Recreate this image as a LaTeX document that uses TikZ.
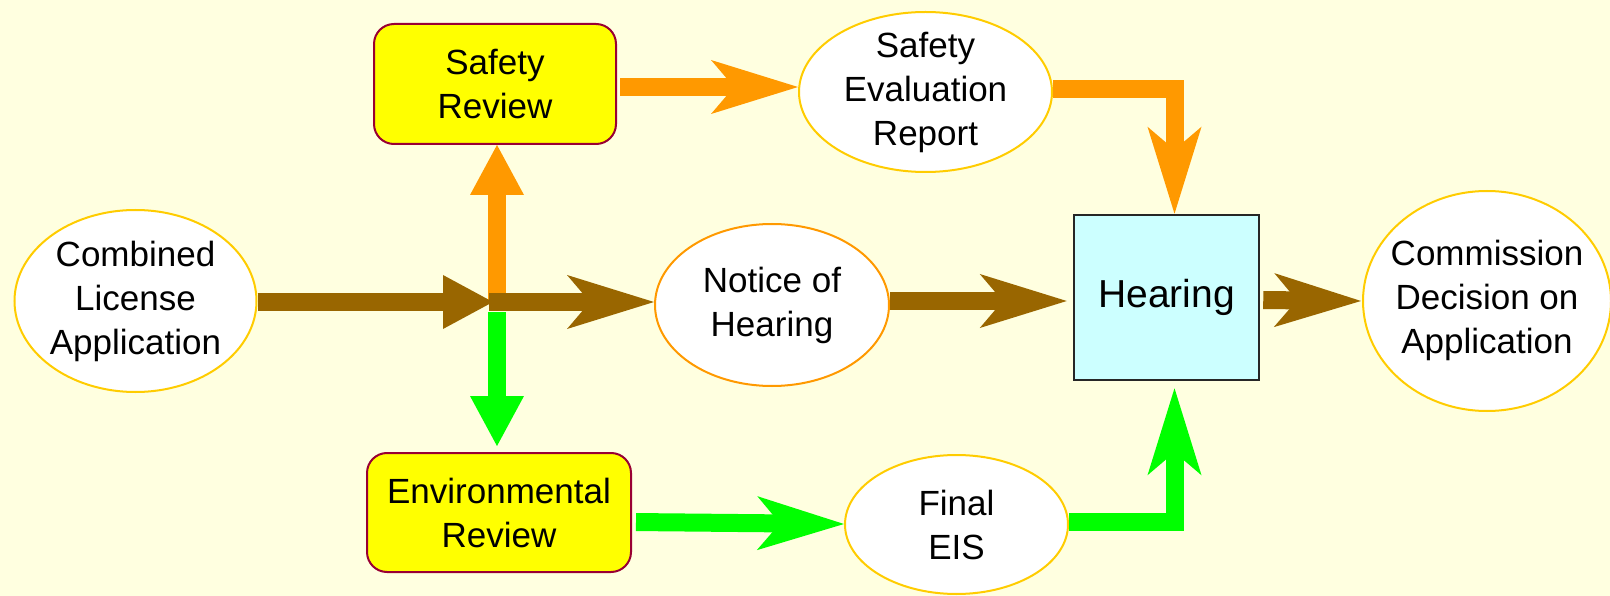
\documentclass[tikz,border=0pt]{standalone}
\usepackage{fontspec}
\setmainfont{Liberation Sans}
\usetikzlibrary{arrows.meta,shapes.geometric}
\definecolor{bg}{HTML}{FFFFE0}
\definecolor{brownarrow}{HTML}{996600}
\definecolor{orangearrow}{HTML}{FF9900}
\definecolor{greenarrow}{HTML}{00FF00}
\definecolor{ovalline}{HTML}{FFCC00}
\definecolor{ovalorange}{HTML}{FF9900}
\definecolor{boxline}{HTML}{990033}
\definecolor{boxfill}{HTML}{FFFF00}
\definecolor{hearfill}{HTML}{CCFFFF}
\definecolor{hearline}{HTML}{262626}
\begin{document}
\begin{tikzpicture}[x=1pt,y=-1pt,
  txt/.style={font=\fontsize{35}{44}\selectfont, align=center, text=black},
  oval/.style={txt, ellipse, draw=ovalline, line width=2pt, fill=white, inner sep=-60pt},
  ybox/.style={txt, rectangle, rounded corners=20pt, draw=boxline, line width=2pt, fill=boxfill, inner sep=0pt},
  flow/.style={line width=18pt, line join=miter},
  tri/.style={-{Triangle[length=50pt,width=54pt,line width=0pt]}},
  stl/.style={-{Stealth[length=87pt,width=54pt,inset=23pt,line width=0pt]}},
]
\fill[bg] (0,0) rectangle (1610,596);
\useasboundingbox (0,0) rectangle (1610,596);

\node[oval, minimum width=242pt, minimum height=182pt] (cla) at (135.5,301) {Combined\\License\\Application};
\node[ybox, minimum width=242pt, minimum height=120pt] (sr) at (495,84) {Safety\\Review};
\node[oval, minimum width=253pt, minimum height=160pt] (ser) at (925.5,92) {Safety\\Evaluation\\Report};
\node[oval, draw=ovalorange, minimum width=234pt, minimum height=162pt] (noh) at (772,305) {Notice of\\Hearing};
\node[rectangle, draw=hearline, line width=2.5pt, fill=hearfill, minimum width=185pt, minimum height=165pt, inner sep=0pt, font=\fontsize{39}{46}\selectfont] (hear) at (1166.5,297.5) {Hearing};
\node[oval, minimum width=248pt, minimum height=220pt] (cd) at (1487,301) {\raisebox{6pt}{\begin{tabular}{@{}c@{}}Commission\\Decision on\\Application\end{tabular}}};
\node[ybox, minimum width=264pt, minimum height=119pt] (env) at (499,512.5) {Environmental\\Review};
\node[oval, minimum width=223pt, minimum height=139pt] (eis) at (956.5,524.5) {Final\\EIS};

\coordinate (J) at (497,302);

% vertical branches
\draw[flow, orangearrow, tri] (J) -- (J |- sr.south);
\draw[flow, greenarrow, tri, shorten >=6pt] ([yshift=-10pt]J) -- (J |- env.north);

% main brown line
\draw[flow, brownarrow, tri, shorten >=4pt] (cla.east |- J) -- (J);
\draw[flow, brownarrow, stl, shorten <=-4pt] ([xshift=-4pt]J) -- (noh.west |- J);

% orange path
\draw[flow, orangearrow, stl, shorten <=3pt] ([yshift=-3pt]sr.east) -- ([yshift=5pt]ser.west);
\draw[flow, orangearrow, stl] ([yshift=3pt]ser.east) -| ([xshift=8pt]hear.north);

% green path
\draw[flow, greenarrow, stl, shorten <=4pt] ([yshift=-9.5pt]env.east) -- ([yshift=0.5pt]eis.west);
\draw[flow, greenarrow, stl, shorten >=7pt] ([yshift=3pt]eis.east) -| ([xshift=8pt]hear.south);

% to and from hearing
\draw[flow, brownarrow, stl, shorten >=6pt] ([yshift=4pt]noh.east) -- ([yshift=-3.5pt]hear.west);
\draw[flow, brownarrow, stl, shorten <=3pt, shorten >=1pt] ([yshift=-2.5pt]hear.east) -- (cd.west);
\end{tikzpicture}
\end{document}
